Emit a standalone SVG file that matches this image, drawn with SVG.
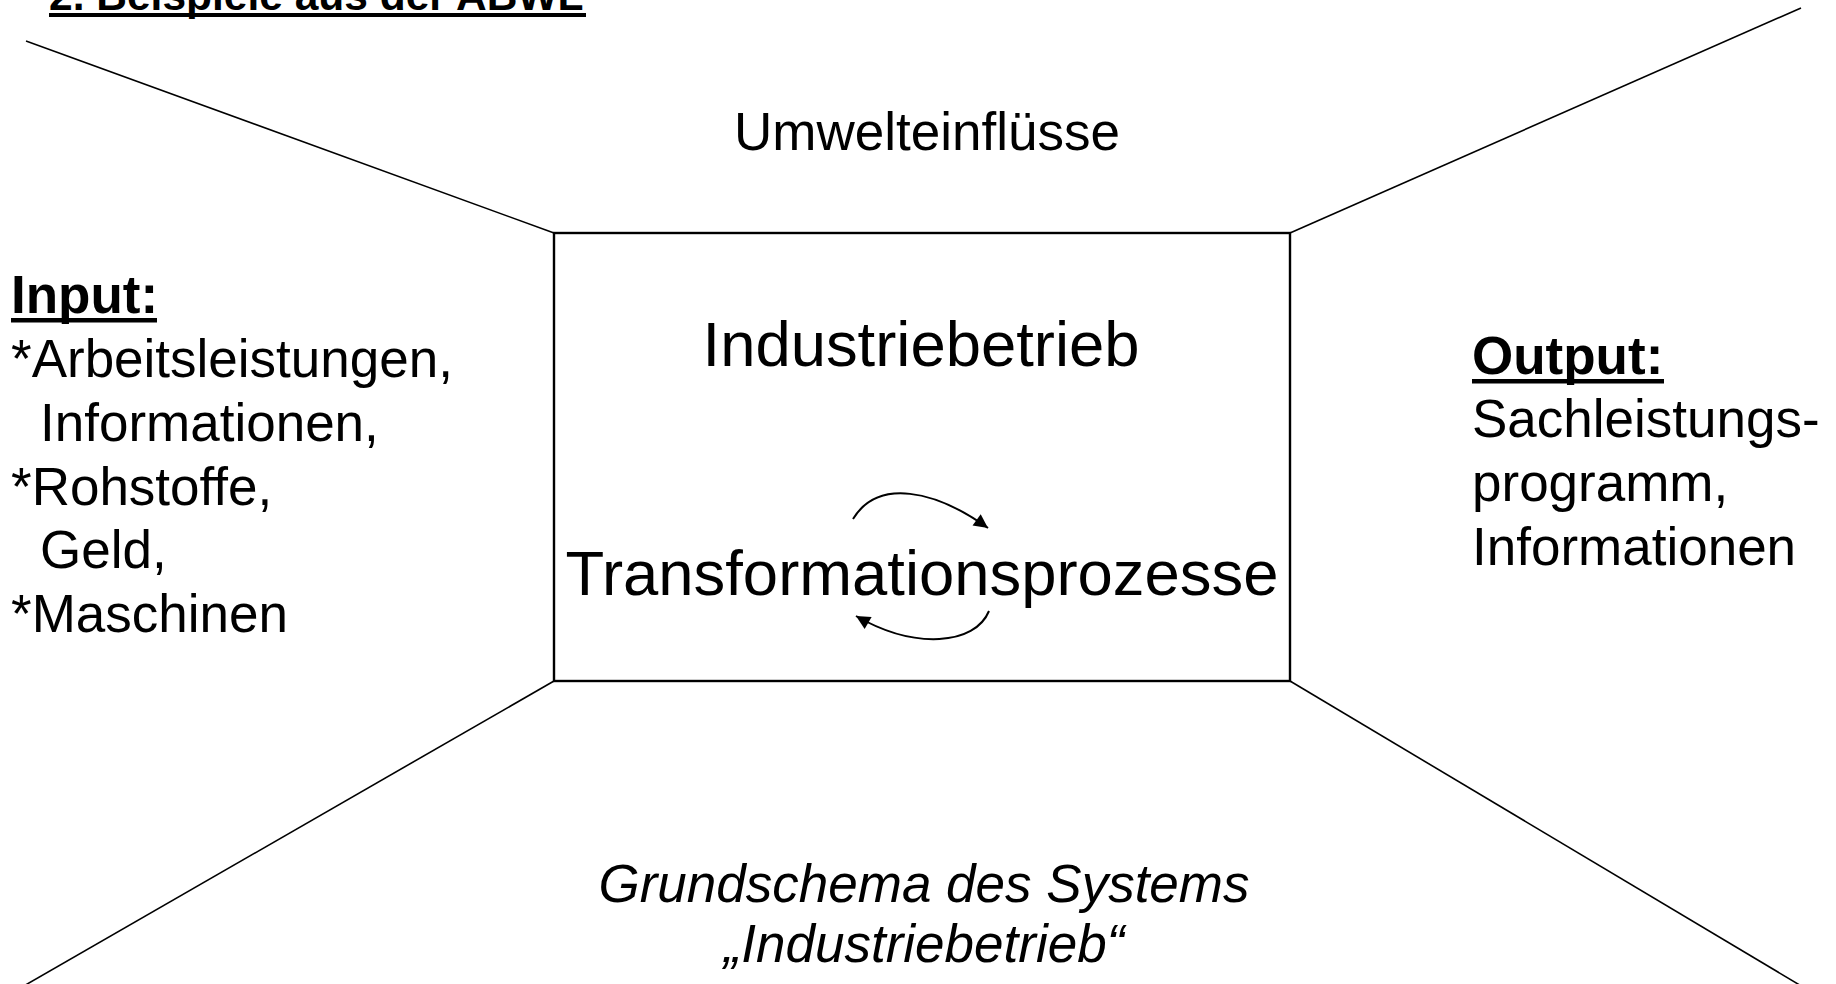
<svg xmlns="http://www.w3.org/2000/svg" width="1836" height="984" viewBox="0 0 1836 984">
<defs>
<style>
.t{font-family:"Liberation Sans",Arial,sans-serif;fill:#000;}
.r{font-size:53px;}
.b{font-size:53px;font-weight:bold;}
.big{font-size:63.4px;}
.it{font-size:53px;font-style:italic;}
.ln{stroke:#000;stroke-width:1.6;fill:none;}
.box{stroke:#000;stroke-width:2.4;fill:none;}
.arc{stroke:#000;stroke-width:2;fill:none;}
</style>
<marker id="ah2" viewBox="0 0 10 10" refX="10" refY="5" markerWidth="18" markerHeight="14" markerUnits="userSpaceOnUse" orient="auto">
<path d="M0,0 L10,5 L0,10 z" fill="#000"/>
</marker>
</defs>
<rect width="1836" height="984" fill="#fff"/>
<g id="heading">
<text class="t" x="49" y="10" style="font-size:42.5px;font-weight:bold">2. Beispiele aus der ABWL</text>
<rect x="49" y="13" width="537" height="4" fill="#000"/>
</g>
<g id="connectors">
<line class="ln" x1="26" y1="41" x2="554" y2="233"/>
<line class="ln" x1="1801" y1="8" x2="1290" y2="233"/>
<line class="ln" x1="22" y1="987" x2="554" y2="681"/>
<line class="ln" x1="1803" y1="987" x2="1290" y2="681"/>
<path class="arc" d="M853,519 C878,478 935,490 988,528" marker-end="url(#ah2)"/>
<path class="arc" d="M989,611 C975,645 915,650 856,616" marker-end="url(#ah2)"/>
</g>
<g id="umwelt">
<text class="t r" x="927" y="150" text-anchor="middle">Umwelteinflüsse</text>
</g>
<g id="industriebetrieb">
<rect class="box" x="554" y="233" width="736" height="448"/>
<text class="t big" x="921" y="366" text-anchor="middle">Industriebetrieb</text>
<text class="t big" x="922" y="595" text-anchor="middle">Transformationsprozesse</text>
</g>
<g id="input">
<text class="t b" x="11" y="313">Input:</text>
<rect x="11" y="318" width="146" height="4.5" fill="#000"/>
<text class="t r" x="11" y="377">*Arbeitsleistungen,</text>
<text class="t r" x="40" y="441">Informationen,</text>
<text class="t r" x="11" y="505">*Rohstoffe,</text>
<text class="t r" x="40" y="568">Geld,</text>
<text class="t r" x="11" y="632">*Maschinen</text>
</g>
<g id="output">
<text class="t b" x="1472" y="374">Output:</text>
<rect x="1472" y="379" width="192" height="4.5" fill="#000"/>
<text class="t r" x="1472" y="437">Sachleistungs-</text>
<text class="t r" x="1472" y="501">programm,</text>
<text class="t r" x="1472" y="565">Informationen</text>
</g>
<g id="caption">
<text class="t it" x="924" y="902" text-anchor="middle">Grundschema des Systems</text>
<text class="t it" x="924" y="962" text-anchor="middle">„Industriebetrieb“</text>
</g>
</svg>
